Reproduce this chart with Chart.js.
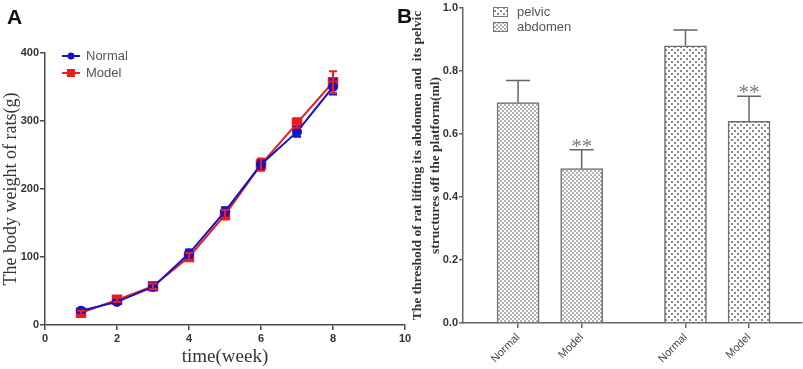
<!DOCTYPE html>
<html>
<head>
<meta charset="utf-8">
<script src="https://cdn.jsdelivr.net/npm/chart.js@4.4.1/dist/chart.umd.min.js"></script>
<style>
	html, body { margin: 0; padding: 0; background: #fff; }
	#wrap { position: relative; width: 803px; height: 369px; overflow: hidden; }
	canvas { position: absolute; top: 0; }
	#chart-weight { left: 0; }
	#chart-threshold { left: 400px; }
	.tag { position: absolute; font: bold 21px "Liberation Sans", Arial, sans-serif; color: #111; line-height: 1; }
</style>
</head>
<body>
<div id="wrap">
	<canvas id="chart-weight" width="420" height="369"></canvas>
	<canvas id="chart-threshold" width="403" height="369"></canvas>
	<div class="tag" style="left:7px;top:6px">A</div>
	<div class="tag" style="left:397px;top:5px">B</div>
</div>
<script>
// ----------------------------------------------
// Data
// ----------------------------------------------
const WEEKS = [1, 2, 3, 4, 5, 6, 7, 8];
const NORMAL_WEIGHT = [21, 34, 56, 105, 167, 236, 284, 350];
const NORMAL_SD = [3, 3, 4, 6, 6, 8, 7, 11];
const MODEL_WEIGHT = [18, 37, 57, 100, 162, 236, 297, 357];
const MODEL_SD = [3, 3, 4, 6, 7, 9, 7, 16];
const WEEK_TICKS = [0, 2, 4, 6, 8, 10];
const WEIGHT_TICKS = [0, 100, 200, 300, 400];

const BAR_LABELS = ["Normal", "Model", "Normal", "Model"];
const ABDOMEN = [0.70, 0.49];
const ABDOMEN_ERR = [0.07, 0.06];
const PELVIC = [0.88, 0.64];
const PELVIC_ERR = [0.05, 0.08];
const SIGNIF = ["", "**", "", "**"];
const THRESHOLD_TICKS = [0, 0.2, 0.4, 0.6, 0.8, 1.0];

// ----------------------------------------------
// Styles
// ----------------------------------------------
const SANS = '"Liberation Sans", Arial, sans-serif';
const SERIF = '"Liberation Serif", "Times New Roman", serif';
const BLUE = "#1414c8";
const RED = "#ee1c1c";
const AXIS = "#4a4a4a";
const TEXT = "#333";

// bar slots on a 0..16 axis so the two groups sit apart
const SLOT = [2.6, 5.6, 10.5, 13.5];

const makePattern = (size, draw) => {
	const c = document.createElement("canvas");
	c.width = size;
	c.height = size;
	const g = c.getContext("2d");
	g.fillStyle = "#fff";
	g.fillRect(0, 0, size, size);
	draw(g);
	return g.createPattern(c, "repeat");
};
const DENSE = makePattern(4, (g) => {
	g.fillStyle = "#b2b2b2";
	g.fillRect(0, 0, 2, 2);
	g.fillRect(2, 2, 2, 2);
});
const DOTS = makePattern(6, (g) => {
	g.fillStyle = "#8a8a8a";
	g.fillRect(1, 1, 2, 2);
	g.fillRect(4, 4, 2, 2);
});

// ----------------------------------------------
// Panel A - body weight
// ----------------------------------------------
const weightErrors = {
	id: "weightErrors",
	afterDatasetsDraw(chart) {
		const { ctx, scales } = chart;
		const sets = [
			{ y: NORMAL_WEIGHT, e: NORMAL_SD, color: BLUE },
			{ y: MODEL_WEIGHT, e: MODEL_SD, color: RED },
		];
		ctx.save();
		ctx.lineWidth = 2;
		sets.forEach((s) => {
			ctx.strokeStyle = s.color;
			WEEKS.forEach((w, i) => {
				const x = scales.x.getPixelForValue(w);
				const top = scales.y.getPixelForValue(s.y[i] + s.e[i]);
				const bot = scales.y.getPixelForValue(s.y[i] - s.e[i]);
				ctx.beginPath();
				ctx.moveTo(x, top);
				ctx.lineTo(x, bot);
				ctx.moveTo(x - 4, top);
				ctx.lineTo(x + 4, top);
				ctx.moveTo(x - 4, bot);
				ctx.lineTo(x + 4, bot);
				ctx.stroke();
			});
		});
		ctx.restore();
	},
};

const weightLegend = {
	id: "weightLegend",
	afterDraw(chart) {
		const { ctx } = chart;
		const items = [
			{ label: "Normal", color: BLUE, y: 56, rect: false },
			{ label: "Model", color: RED, y: 73, rect: true },
		];
		ctx.save();
		items.forEach((it) => {
			ctx.strokeStyle = it.color;
			ctx.fillStyle = it.color;
			ctx.lineWidth = 2;
			ctx.beginPath();
			ctx.moveTo(62, it.y);
			ctx.lineTo(80, it.y);
			ctx.stroke();
			if (it.rect) {
				ctx.fillRect(67, it.y - 4, 8, 8);
			} else {
				ctx.beginPath();
				ctx.arc(71, it.y, 3.5, 0, Math.PI * 2);
				ctx.fill();
			}
			ctx.fillStyle = "#555";
			ctx.font = "13px " + SANS;
			ctx.textBaseline = "middle";
			ctx.fillText(it.label, 86, it.y);
		});
		ctx.restore();
	},
};

new Chart(document.getElementById("chart-weight"), {
	type: "line",
	data: {
		datasets: [
			{
				label: "Normal",
				data: WEEKS.map((w, i) => ({ x: w, y: NORMAL_WEIGHT[i] })),
				borderColor: BLUE,
				backgroundColor: BLUE,
				borderWidth: 2,
				pointStyle: "circle",
				pointRadius: 4,
			},
			{
				label: "Model",
				data: WEEKS.map((w, i) => ({ x: w, y: MODEL_WEIGHT[i] })),
				borderColor: RED,
				backgroundColor: RED,
				borderWidth: 2,
				pointStyle: "rect",
				pointRadius: 6,
			},
		],
	},
	options: {
		responsive: false,
		animation: false,
		layout: { padding: { top: 53, right: 15, left: 0, bottom: 0 } },
		plugins: {
			legend: { display: false },
			tooltip: { enabled: false },
		},
		scales: {
			x: {
				type: "linear",
				min: 0,
				max: 10,
				afterBuildTicks: (axis) => {
					axis.ticks = WEEK_TICKS.map((v) => ({ value: v }));
				},
				afterFit: (scale) => {
					scale.height = 44;
				},
				border: { color: AXIS, width: 1.5 },
				grid: { drawOnChartArea: false, tickLength: 5, color: AXIS, lineWidth: 1.5 },
				ticks: { color: TEXT, padding: 2, font: { family: SANS, size: 11, weight: "bold" } },
				title: {
					display: true,
					text: "time(week)",
					color: TEXT,
					padding: { top: 0, bottom: 1 },
					font: { family: SERIF, size: 19 },
				},
			},
			y: {
				min: 0,
				max: 400,
				afterBuildTicks: (axis) => {
					axis.ticks = WEIGHT_TICKS.map((v) => ({ value: v }));
				},
				afterFit: (scale) => {
					scale.width = 45;
				},
				border: { color: AXIS, width: 1.5 },
				grid: { drawOnChartArea: false, tickLength: 5, color: AXIS, lineWidth: 1.5 },
				ticks: { color: TEXT, padding: 1, font: { family: SANS, size: 11, weight: "bold" } },
				title: {
					display: true,
					text: "The body weight of rats(g)",
					color: TEXT,
					padding: { top: 0, bottom: 0 },
					font: { family: SERIF, size: 18 },
				},
			},
		},
	},
	plugins: [weightErrors, weightLegend],
});

// ----------------------------------------------
// Panel B - threshold bars
// ----------------------------------------------
const thresholdErrors = {
	id: "thresholdErrors",
	afterDatasetsDraw(chart) {
		const { ctx, scales } = chart;
		const vals = ABDOMEN.concat(PELVIC);
		const errs = ABDOMEN_ERR.concat(PELVIC_ERR);
		ctx.save();
		ctx.strokeStyle = "#666";
		ctx.lineWidth = 1.5;
		vals.forEach((v, i) => {
			const x = scales.x.getPixelForValue(SLOT[i]);
			const base = scales.y.getPixelForValue(v);
			const top = scales.y.getPixelForValue(v + errs[i]);
			ctx.beginPath();
			ctx.moveTo(x, base);
			ctx.lineTo(x, top);
			ctx.moveTo(x - 12, top);
			ctx.lineTo(x + 12, top);
			ctx.stroke();
			if (SIGNIF[i]) {
				ctx.fillStyle = "#7a7a7a";
				ctx.font = "21px " + SERIF;
				ctx.textAlign = "center";
				ctx.textBaseline = "alphabetic";
				ctx.fillText(SIGNIF[i], x, top + 3);
			}
		});
		ctx.restore();
	},
};

const thresholdLegend = {
	id: "thresholdLegend",
	afterDraw(chart) {
		const { ctx } = chart;
		const items = [
			{ label: "pelvic", fill: DOTS, y: 12 },
			{ label: "abdomen", fill: DENSE, y: 27 },
		];
		ctx.save();
		items.forEach((it) => {
			ctx.fillStyle = it.fill;
			ctx.fillRect(93, it.y - 5, 15, 10);
			ctx.strokeStyle = "#777";
			ctx.lineWidth = 1;
			ctx.strokeRect(93.5, it.y - 4.5, 14, 9);
			ctx.fillStyle = "#555";
			ctx.font = "13px " + SANS;
			ctx.textBaseline = "middle";
			ctx.fillText(it.label, 117, it.y);
		});
		ctx.restore();
	},
};

new Chart(document.getElementById("chart-threshold"), {
	type: "bar",
	data: {
		datasets: [
			{
				label: "abdomen",
				data: ABDOMEN.map((v, i) => ({ x: SLOT[i], y: v })),
				backgroundColor: DENSE,
				borderColor: "#6e6e6e",
				borderWidth: 1.5,
				barThickness: 42,
				grouped: false,
			},
			{
				label: "pelvic",
				data: PELVIC.map((v, i) => ({ x: SLOT[i + 2], y: v })),
				backgroundColor: DOTS,
				borderColor: "#6e6e6e",
				borderWidth: 1.5,
				barThickness: 42,
				grouped: false,
			},
		],
	},
	options: {
		responsive: false,
		animation: false,
		layout: { padding: { top: 8, right: 1, left: 0, bottom: 0 } },
		plugins: {
			legend: { display: false },
			tooltip: { enabled: false },
		},
		scales: {
			x: {
				type: "linear",
				min: 0,
				max: 16,
				offset: false,
				afterBuildTicks: (axis) => {
					axis.ticks = SLOT.map((v) => ({ value: v }));
				},
				afterFit: (scale) => {
					scale.height = 46;
				},
				border: { color: "#666", width: 1.5 },
				grid: { offset: false, drawOnChartArea: false, tickLength: 5, color: "#666", lineWidth: 1.5 },
				ticks: {
					autoSkip: false,
					minRotation: 45,
					maxRotation: 45,
					padding: 3,
					color: "#444",
					font: { family: SANS, size: 11 },
					callback: (value, index) => BAR_LABELS[index],
				},
			},
			y: {
				min: 0,
				max: 1,
				afterBuildTicks: (axis) => {
					axis.ticks = THRESHOLD_TICKS.map((v) => ({ value: v }));
				},
				afterFit: (scale) => {
					scale.width = 63;
				},
				border: { color: "#666", width: 1.5 },
				grid: { drawOnChartArea: false, tickLength: 4, color: "#666", lineWidth: 1.5 },
				ticks: {
					color: TEXT,
					padding: 1,
					font: { family: SANS, size: 11, weight: "bold" },
					callback: (value) => value.toFixed(1),
				},
				title: {
					display: true,
					text: ["The threshold of rat lifting its abdomen and  its pelvic", "structures off the platform(ml)"],
					color: TEXT,
					padding: { top: 9, bottom: 0 },
					font: { family: SERIF, size: 13.5, weight: "bold", lineHeight: 1.3 },
				},
			},
		},
	},
	plugins: [thresholdErrors, thresholdLegend],
});
</script>
</body>
</html>
